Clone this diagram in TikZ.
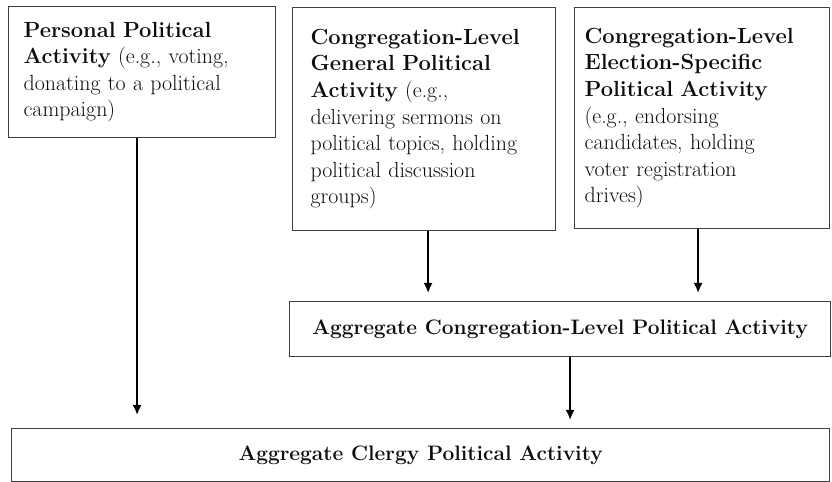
\documentclass[tikz,border=0pt]{standalone}
\usepackage{tikz}
\usetikzlibrary{arrows.meta,shapes}
\newcommand{\tact}[1]{\textbf{#1}}

\begin{document}
\begin{tikzpicture}[>={Latex[length=10bp,width=9bp]}]
  \tikzstyle{every node}=[font=\fontsize{22}{26.7}\selectfont, text=black!95]
  \tikzstyle{actbox}=[draw=black!75, line width=1.2bp, align=left, anchor=north west, inner ysep=0bp]
  \tikzstyle{aggbox}=[draw=black!75, line width=1.2bp, anchor=north west, inner sep=0bp, font=\fontsize{21}{25}\selectfont\bfseries]
  \tikzstyle{flow}=[->, line width=1.8bp, black]
  \useasboundingbox (0bp,0bp) rectangle (832bp,482bp);
  %%
  \node (n_pers) at (8bp,476bp) [actbox, inner xsep=15bp, text width=237bp, minimum height=131bp] {\tact{Personal Political}\\ \tact{Activity} (e.g., voting,\\ donating to a political\\ campaign)};
  \node (n_cgen) at (292bp,475bp) [actbox, inner xsep=18bp, text width=227bp, minimum height=223bp] {\tact{Congregation-Level}\\ \tact{General Political}\\ \tact{Activity} (e.g.,\\ delivering sermons on\\ political topics, holding\\ political discussion\\ groups)};
  \node (n_celec) at (574bp,475bp) [actbox, inner xsep=10bp, text width=235bp, minimum height=221bp] {\tact{Congregation-Level}\\ \tact{Election-Specific}\\ \tact{Political Activity}\\ (e.g., endorsing\\ candidates, holding\\ voter registration\\ drives)};
  \node (n_cagg) at (289bp,181bp) [aggbox, minimum width=541bp, minimum height=55bp] {Aggregate Congregation-Level Political Activity};
  \node (n_clergy) at (11bp,54bp) [aggbox, minimum width=818bp, minimum height=53bp] {Aggregate Clergy Political Activity};
  \draw [flow, shorten >=13bp] ([xshift=-5bp]n_pers.south) -- ([xshift=-5bp]n_pers.south |- n_clergy.north);
  \draw [flow, shorten >=8bp] ([xshift=4bp]n_cgen.south) -- ([xshift=4bp]n_cgen.south |- n_cagg.north);
  \draw [flow, shorten >=8bp] ([xshift=-4bp]n_celec.south) -- ([xshift=-4bp]n_celec.south |- n_cagg.north);
  \draw [flow, shorten >=8bp] ([xshift=10bp]n_cagg.south) -- ([xshift=10bp]n_cagg.south |- n_clergy.north);
%
\end{tikzpicture}
\end{document}
